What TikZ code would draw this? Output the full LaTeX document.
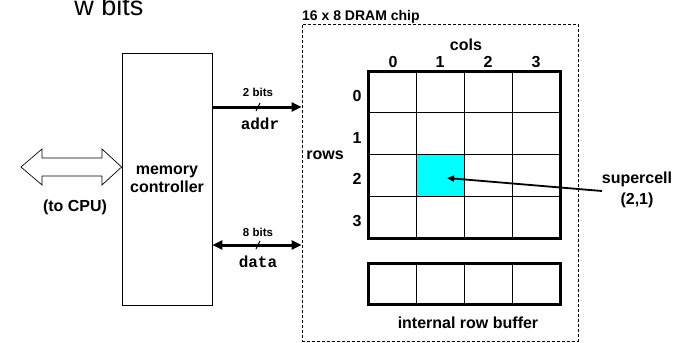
\documentclass[tikz,border=0pt]{standalone}
\usepackage{fontspec}
\setmainfont{Liberation Sans}
\setmonofont{Liberation Mono}
\usetikzlibrary{arrows.meta}
\definecolor{aqua}{RGB}{0,255,255}
\begin{document}
\begin{tikzpicture}[x=1pt,y=-1pt,
  >={Triangle[length=10pt,width=9pt]},
  lbl/.style={font=\fontsize{16}{18}\selectfont\bfseries, inner sep=0pt},
  smalllbl/.style={font=\fontsize{11.5}{13}\selectfont\bfseries, inner sep=0pt},
  code/.style={font=\fontsize{16}{18}\selectfont\ttfamily\bfseries, inner sep=0pt},
  bus/.style={line width=3pt},
  thinline/.style={line width=0.9pt},
  thickbox/.style={draw, line width=3pt, minimum width=192pt, inner sep=0pt},
]
\useasboundingbox (0,0) rectangle (681,343);

% title
\node[font=\fontsize{27}{30}\selectfont, anchor=base, inner sep=0pt] (wb) at (109,15) {w bits};

% memory controller
\node[draw, line width=0.8pt, minimum width=90pt, minimum height=252pt, lbl, align=center] (mc) at (167,179) {memory\\controller};

% hollow double arrow to CPU
\draw[line width=0.7pt, fill=white] (21,167) -- (42,149) -- (42,158) -- (102,158) -- (102,149) -- (mc.west |- 0,167)
  -- (102,185) -- (102,176) -- (42,176) -- (42,185) -- cycle;
\node[lbl] (cpu) at (75,207) {(to CPU)};

% DRAM chip
\node[draw, dash pattern=on 3pt off 2pt, line width=0.8pt, minimum width=276pt, minimum height=317pt, inner sep=0pt] (chip) at (440,182.5) {};
\node[lbl, font=\fontsize{14}{16}\selectfont\bfseries, anchor=base west] (ct) at (302,20) {16 x 8 DRAM chip};

% addr bus
\coordinate (ay) at (0,107);
\draw[bus, ->] (mc.east |- ay) -- (chip.west |- ay);
\draw[line width=1pt] (256,111) -- (260,103);
\node[smalllbl] (ab) at (258,92) {2 bits};
\node[code] (addr) at (260,124) {addr};

% data bus
\coordinate (dy) at (0,245);
\draw[bus, <->] (mc.east |- dy) -- (chip.west |- dy);
\draw[line width=1pt] (256,249) -- (260,241);
\node[smalllbl] (db) at (258,232) {8 bits};
\node[code] (data) at (258,262) {data};

% supercell fill
\node[fill=aqua, minimum width=48pt, minimum height=41.75pt, inner sep=0pt] (sc) at (440,175.375) {};

% array grid
\foreach \x in {416,464,512} \draw[thinline] (\x,71) -- (\x,238);
\foreach \y in {112.75,154.5,196.25} \draw[thinline] (368,\y) -- (560,\y);
\node[thickbox, minimum height=167pt] (arr) at (464,154.5) {};

% row buffer
\foreach \x in {416,464,512} \draw[thinline] (\x,263) -- (\x,304);
\node[thickbox, minimum height=41pt] (buf) at (464,283.5) {};
\node[lbl] (irb) at (468,323) {internal row buffer};

% labels
\node[lbl] (cols) at (466,45) {cols};
\foreach \t/\x in {0/393,1/440,2/488,3/536} \node[lbl] (c\t) at (\x,62) {\t};
\foreach \t/\y in {0/96,1/138,2/179,3/221} \node[lbl] (r\t) at (357,\y) {\t};
\node[lbl] (rows) at (325,155) {rows};

% supercell label and pointer
\node[lbl, align=center, font=\fontsize{16}{21}\selectfont\bfseries] (sl) at (637,190) {supercell\\(2,1)};
\coordinate (st) at (602,191);
\coordinate (sp) at (447,178);
\draw[line width=1.8pt, -{Triangle[length=7pt,width=6pt]}] (st) -- (sp);
\end{tikzpicture}
\end{document}
